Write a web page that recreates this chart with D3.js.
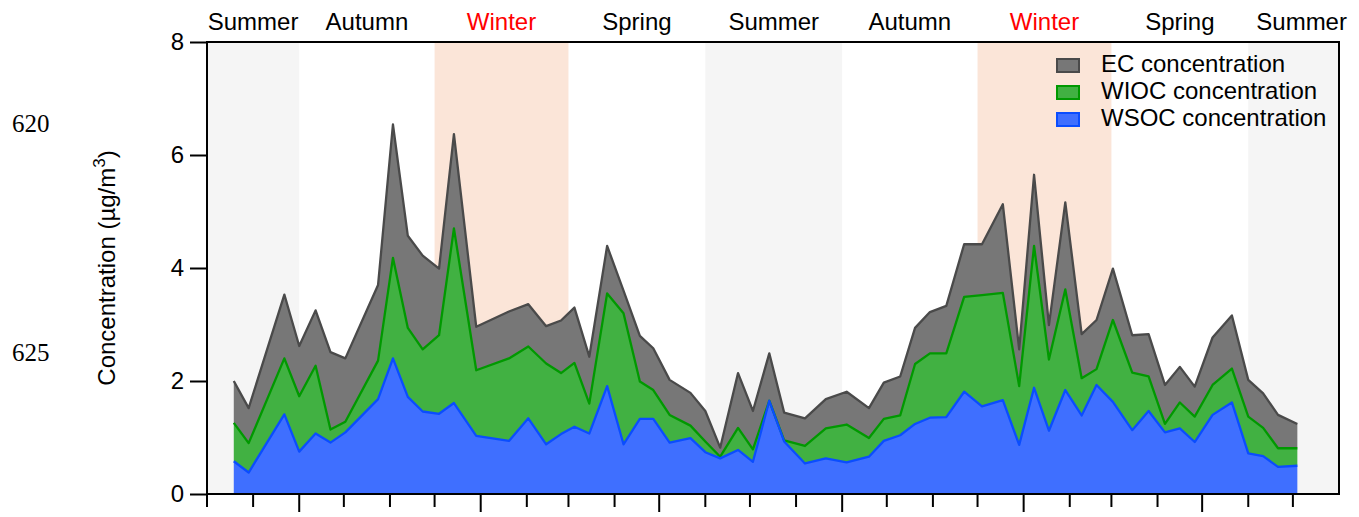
<!DOCTYPE html>
<html>
<head>
<meta charset="utf-8">
<script src="https://cdn.jsdelivr.net/npm/d3@7"></script>
<style>
  body { margin: 0; background: #fff; }
  svg text { font-family: "Liberation Sans", Arial, sans-serif; }
</style>
</head>
<body>
<div id="chart"></div>
<script>
// sampling dates (roughly every 10 days)
const dates = [
  "2013-07-19","2013-07-29","2013-08-22","2013-09-01","2013-09-12","2013-09-22","2013-10-02","2013-10-24",
  "2013-11-03","2013-11-13","2013-11-23","2013-12-04","2013-12-14","2013-12-29","2014-01-20","2014-02-02",
  "2014-02-14","2014-02-24","2014-03-05","2014-03-15","2014-03-27","2014-04-07","2014-04-18","2014-04-27",
  "2014-05-08","2014-05-22","2014-06-01","2014-06-11","2014-06-23","2014-07-03","2014-07-14","2014-07-24",
  "2014-08-07","2014-08-21","2014-09-04","2014-09-19","2014-09-29","2014-10-10","2014-10-20","2014-10-30",
  "2014-11-10","2014-11-22","2014-12-04","2014-12-18","2014-12-29","2015-01-08","2015-01-18","2015-01-29",
  "2015-02-09","2015-02-19","2015-03-02","2015-03-15","2015-03-26","2015-04-06","2015-04-16","2015-04-26",
  "2015-05-08","2015-05-21","2015-06-01","2015-06-11","2015-06-21","2015-07-04"
];
const wsoc = [
  0.58,0.38,1.41,0.75,1.07,0.91,1.09,1.68, 2.40,1.72,1.46,1.42,1.61,1.03,0.94,1.34,
  0.88,1.06,1.19,1.07,1.91,0.88,1.33,1.33, 0.91,0.99,0.74,0.63,0.78,0.57,1.65,0.93,
  0.54,0.63,0.56,0.66,0.94,1.04,1.24,1.35, 1.36,1.81,1.55,1.66,0.87,1.88,1.12,1.84,
  1.39,1.93,1.63,1.13,1.47,1.09,1.16,0.92, 1.40,1.62,0.72,0.67,0.48,0.50
];
const wioc = [
  0.68,0.52,0.99,0.98,1.20,0.23,0.19,0.68, 1.78,1.22,1.10,1.39,3.09,1.16,1.46,1.27,
  1.43,1.08,1.13,0.53,1.64,2.32,0.66,0.51, 0.49,0.22,0.19,0.03,0.39,0.22,0.00,0.02,
  0.31,0.53,0.67,0.33,0.39,0.35,1.06,1.14, 1.13,1.68,1.97,1.90,1.04,2.51,1.26,1.78,
  0.66,0.28,1.45,1.02,0.61,0.15,0.46,0.45, 0.53,0.60,0.65,0.50,0.33,0.31
];
const ec = [
  0.74,0.62,1.13,0.89,0.98,1.37,1.12,1.34, 2.36,1.63,1.66,1.18,1.67,0.77,0.83,0.75,
  0.66,0.93,0.98,0.83,0.84,0.40,0.81,0.74, 0.62,0.58,0.54,0.16,0.97,0.68,0.84,0.49,
  0.49,0.52,0.58,0.53,0.64,0.69,0.64,0.73, 0.84,0.93,0.90,1.57,0.65,1.26,0.61,1.54,
  0.78,0.87,0.91,0.66,0.75,0.69,0.63,0.53, 0.84,0.94,0.65,0.61,0.59,0.43
];

const seasonNames = ["Summer","Autumn","Winter","Spring","Summer","Autumn","Winter","Spring","Summer"];
const seasonStarts = ["2013-07-01","2013-09-01","2013-12-01","2014-03-01","2014-06-01","2014-09-01","2014-12-01","2015-03-01","2015-06-01"];
const axisEnd = "2015-08-01";
const yTicks = [0, 2, 4, 6, 8];

const seriesKeys = ["wsoc", "wioc", "ec"];
const seriesLabels = {ec: "EC concentration", wioc: "WIOC concentration", wsoc: "WSOC concentration"};
const fills = {ec: "#777777", wioc: "#41b142", wsoc: "#3f6fff"};
const strokes = {ec: "#4a4a4a", wioc: "#009900", wsoc: "#0a4dff"};

const margin = {top: 42, right: 20, bottom: 23, left: 207},
    width = 1359 - margin.left - margin.right,
    height = 517 - margin.top - margin.bottom;

const parse = d3.utcParse("%Y-%m-%d");

const svg = d3.select("#chart")
    .append("svg")
    .attr("width", 1359)
    .attr("height", 517);

const g = svg.append("g")
    .attr("transform", `translate(${margin.left},${margin.top})`);

const x = d3.scaleUtc()
    .domain([parse(seasonStarts[0]), parse(axisEnd)])
    .range([0, width]);

const y = d3.scaleLinear()
    .domain([0, 8])
    .range([height, 0]);

// season bands + labels
const seasons = seasonNames.map((name, i) => ({
    name: name,
    start: parse(seasonStarts[i]),
    end: parse(i < seasonStarts.length - 1 ? seasonStarts[i + 1] : axisEnd)
}));

g.selectAll(".band")
    .data(seasons.filter(s => s.name === "Summer" || s.name === "Winter"))
    .join("rect")
    .attr("x", d => x(d.start))
    .attr("width", d => x(d.end) - x(d.start))
    .attr("y", 0)
    .attr("height", height)
    .attr("fill", d => d.name === "Winter" ? "#fbe5d8" : "#f5f5f5");

g.selectAll(".season")
    .data(seasons)
    .join("text")
    .attr("x", (d, i) => x(new Date((+d.start + +d.end) / 2)) + (i === seasons.length - 1 ? 8 : 0))
    .attr("y", -12)
    .attr("text-anchor", "middle")
    .style("font-size", "24px")
    .attr("fill", d => d.name === "Winter" ? "#ff0000" : "#000")
    .text(d => d.name);

// stacked data
const data = dates.map((d, i) => ({date: parse(d), wsoc: wsoc[i], wioc: wioc[i], ec: ec[i]}));
const stacked = d3.stack().keys(seriesKeys)(data);

const area = d3.area()
    .x(d => x(d.data.date))
    .y0(d => y(d[0]))
    .y1(d => y(d[1]));

const line = d3.line()
    .x(d => x(d.data.date))
    .y(d => y(d[1]));

g.selectAll(".area")
    .data(stacked)
    .join("path")
    .attr("fill", d => fills[d.key])
    .attr("d", area);

g.selectAll(".topline")
    .data(stacked.slice().reverse())
    .join("path")
    .attr("fill", "none")
    .attr("stroke", d => strokes[d.key])
    .attr("stroke-width", 2.3)
    .attr("stroke-linejoin", "round")
    .attr("d", line);

// frame
g.append("rect")
    .attr("width", width)
    .attr("height", height)
    .attr("fill", "none")
    .attr("stroke", "#000")
    .attr("stroke-width", 2);

// Y axis
const yAxis = g.append("g")
    .call(d3.axisLeft(y).tickValues(yTicks).tickSize(17).tickPadding(6));
yAxis.select(".domain").remove();
yAxis.selectAll("line").attr("stroke-width", 2);
yAxis.selectAll("text")
    .style("font-size", "24px")
    .style("font-family", "Liberation Sans, Arial, sans-serif")
    .attr("fill", "#000");

// X axis: month ticks, longer every 4 months
const months = d3.utcMonth.range(parse(seasonStarts[0]), parse(axisEnd));
g.append("g")
    .selectAll("line")
    .data(months)
    .join("line")
    .attr("x1", d => x(d))
    .attr("x2", d => x(d))
    .attr("y1", height)
    .attr("y2", d => height + (d.getUTCMonth() % 4 === 0 ? 18 : 13))
    .attr("stroke", "#000")
    .attr("stroke-width", 2);

// Y title
svg.append("text")
    .attr("transform", "translate(115,268) rotate(-90)")
    .attr("text-anchor", "middle")
    .style("font-size", "24px")
    .call(t => {
        t.append("tspan").text("Concentration (µg/m");
        t.append("tspan").attr("dy", -10).style("font-size", "17px").text("3");
        t.append("tspan").attr("dy", 10).text(")");
    });

// legend
const legend = svg.append("g")
    .attr("transform", "translate(1057,72)");
const legendKeys = ["ec", "wioc", "wsoc"];
legendKeys.forEach((k, i) => {
    legend.append("rect")
        .attr("x", 0)
        .attr("y", i * 27 - 13)
        .attr("width", 22)
        .attr("height", 13)
        .attr("fill", fills[k])
        .attr("stroke", strokes[k])
        .attr("stroke-width", 2);
    legend.append("text")
        .attr("x", 44)
        .attr("y", i * 27)
        .style("font-size", "24px")
        .text(seriesLabels[k]);
});

// manuscript line numbers
svg.selectAll(".lineno")
    .data([{t: "620", y: 132}, {t: "625", y: 361}])
    .join("text")
    .attr("x", 12)
    .attr("y", d => d.y)
    .style("font-family", "Liberation Serif, Times New Roman, serif")
    .style("font-size", "25px")
    .text(d => d.t);
</script>
</body>
</html>
